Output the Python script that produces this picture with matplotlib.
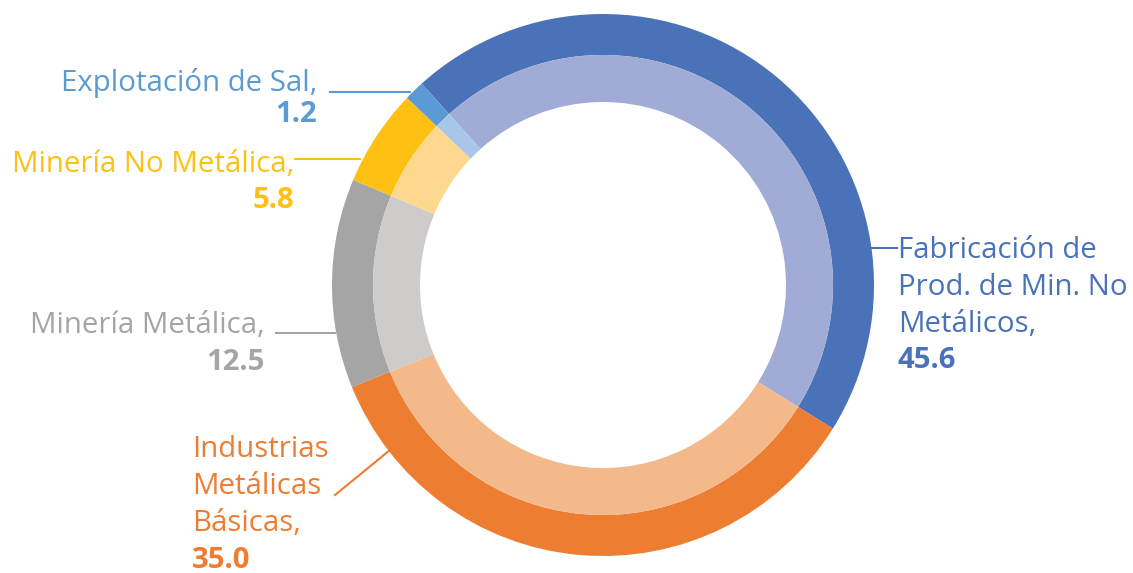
import matplotlib
matplotlib.use("Agg")
import matplotlib.pyplot as plt

# ---- data ----
categories = ["Fabricación de\nProd. de Min. No\nMetálicos,", "Industrias\nMetálicas\nBásicas,",
              "Minería Metálica,", "Minería No Metálica,", "Explotación de Sal,"]
values = [45.6, 35.0, 12.5, 5.8, 1.2]
value_labels = ["45.6", "35.0", "12.5", "5.8", "1.2"]

outer_colors = ["#4A72B8", "#ED7D31", "#A5A5A5", "#FDC013", "#5A9AD5"]
inner_colors = ["#A0ABD6", "#F4B98A", "#CDCCCB", "#FED98D", "#A8C6E8"]

W, H = 1133, 573
plt.rcParams['font.family'] = ['Open Sans', 'DejaVu Sans']

fig = plt.figure(figsize=(W / 100, H / 100), dpi=100)
ax = fig.add_axes([0, 0, 1, 1])

def fy(y):
    return H - y

cx, cy = 603, fy(285)
ax.pie(values, radius=271, center=(cx, cy), startangle=132, counterclock=False,
       colors=outer_colors, wedgeprops=dict(width=41, edgecolor='none'))
ax.pie(values, radius=230, center=(cx, cy), startangle=132, counterclock=False,
       colors=inner_colors, wedgeprops=dict(width=47, edgecolor='none'))

ax.set_xlim(0, W)
ax.set_ylim(0, H)
ax.set_aspect('equal')
ax.axis('off')

fs = 21.2
lw = 1.5

def put(lines, x, baselines, ha, color, number):
    for ln, b in zip(lines, baselines):
        ax.text(x, fy(b), ln, ha=ha, va='baseline', fontsize=fs, color=color)
    ax.text(x, fy(baselines[len(lines)]), number,
            ha=ha, va='baseline', fontsize=fs, color=color, fontweight='bold')

# Fabricación
put(categories[0].split("\n"), 898, [258, 295, 332, 368], 'left', outer_colors[0], value_labels[0])
ax.plot([870, 897], [fy(248), fy(248)], color=outer_colors[0], lw=lw)

# Industrias
put(categories[1].split("\n"), 192, [457, 494, 531, 568], 'left', outer_colors[1], value_labels[1])
ax.plot([335, 390], [fy(495), fy(450)], color=outer_colors[1], lw=lw)

# Minería Metálica
put([categories[2]], 265, [333, 370], 'right', outer_colors[2], value_labels[2])
ax.plot([276, 335], [fy(333), fy(333)], color=outer_colors[2], lw=lw)

# Minería No Metálica
put([categories[3]], 294, [172, 208], 'right', outer_colors[3], value_labels[3])
ax.plot([295, 360], [fy(159), fy(159)], color=outer_colors[3], lw=lw)

# Explotación de Sal
put([categories[4]], 317, [91, 122], 'right', outer_colors[4], value_labels[4])
ax.plot([330, 410], [fy(92), fy(92)], color=outer_colors[4], lw=lw)

fig.savefig("out.png", dpi=100)
